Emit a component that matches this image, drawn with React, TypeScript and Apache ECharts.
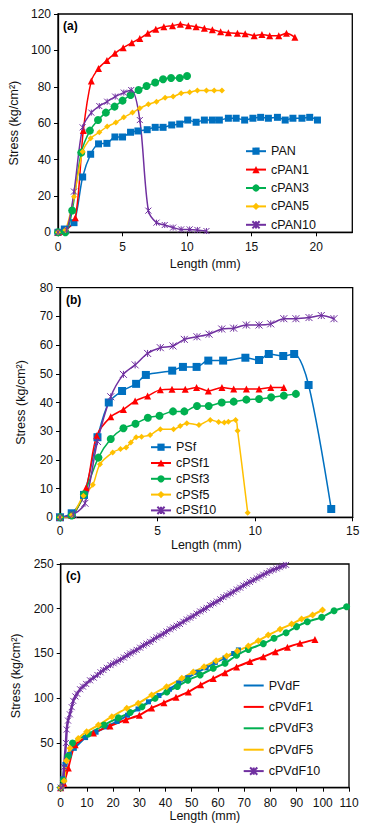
import React, { useEffect, useRef } from "react";
import * as echarts from "echarts";

const FONT = "Liberation Sans, Arial, sans-serif";
const BLUE = "#0070C0";
const RED = "#FF0000";
const GREEN = "#00B050";
const YELLOW = "#FFC000";
const PURPLE = "#7030A0";
const STAR = "path://M0,0L10,10M10,0L0,10M5,0L5,10";

// ---------- Panel (a) ----------
const namesA = ["PAN", "cPAN1", "cPAN3", "cPAN5", "cPAN10"];
const aPAN = [[0,0],[0.49,1.8],[1.24,5.3],[1.91,30.4],[2.53,42.9],[3.14,48.6],[3.79,48.9],[4.41,52.4],[5.0,52.4],[5.62,55],[6.19,55.7],[6.91,56.4],[7.53,57.7],[8.14,57.7],[8.81,59],[9.43,59.5],[10.05,61.7],[10.7,60.5],[11.34,61.7],[11.96,61.7],[12.5,61.7],[13.2,62.7],[13.8,62.7],[14.46,61.7],[15.1,62.7],[15.7,63.2],[16.3,62.7],[17.0,63.2],[17.6,61.7],[18.2,62.7],[18.9,62.7],[19.5,63.2],[20.1,61.7]];
const aPAN1 = [[0,0],[0.5,0.5],[1.34,8],[1.96,55.9],[2.58,83.2],[3.14,90.1],[3.79,94.5],[4.41,98.4],[5.05,101.5],[5.72,104.2],[6.34,106.6],[6.96,109.4],[7.58,111.6],[8.2,113],[8.87,113.6],[9.48,114.3],[10.1,113.6],[10.7,113],[11.34,112.1],[11.96,111.4],[12.6,110.3],[13.2,109.7],[13.9,109.4],[14.5,109.2],[15.2,108.1],[15.8,108.7],[16.4,108.1],[17.1,108.1],[17.7,109.4],[18.35,107.2]];
const aPAN3 = [[0,0],[0.57,0],[1.1,12],[1.8,43.8],[2.47,55.9],[3.1,61.7],[3.71,65.8],[4.38,69.1],[5.0,72.4],[5.62,75.5],[6.24,78.2],[6.86,80.4],[7.53,82.3],[8.14,84.1],[8.76,84.8],[9.43,84.8],[10.0,85.9]];
const aPAN5 = [[0,0],[0.57,1.3],[1.24,19.6],[1.91,44.3],[2.53,51.7],[3.2,55],[3.81,58.1],[4.48,60.3],[5.1,63.2],[5.77,65.8],[6.34,68.2],[7.0,70.4],[7.63,71.8],[8.3,74],[8.92,74.6],[9.54,76.4],[10.2,77],[10.8,77.9],[11.5,77.9],[12.1,77.9],[12.7,77.9]];
const aPAN10 = [[0,0],[0.67,1.3],[1.24,22.4],[1.91,57.7],[2.58,65.8],[3.2,69.4],[3.81,71.8],[4.43,74.6],[5.1,76.8],[5.67,78.2],[6.34,61.7],[7.0,11.9],[7.63,5.3],[8.27,4],[8.92,2.6],[9.54,1.6],[10.2,1.6],[10.8,1.3],[11.5,0.7]];
const aXTicks = [0, 5, 10, 15, 20];

// ---------- Panel (b) ----------
const namesB = ["PSf", "cPSf1", "cPSf3", "cPSf5", "cPSf10"];
const bPSf = [[0,0],[0.6,1.4],[1.23,7.8],[1.92,27.9],[2.5,40],[3.18,44],[3.9,46.5],[4.4,49.6],[5.75,51.1],[6.3,52.4],[7.0,52.4],[7.6,54.6],[8.36,54.6],[9.5,55.6],[10.2,54.8],[10.7,56.9],[11.44,56.2],[12.0,56.9],[12.74,46.1],[13.9,2.9]];
const bPSf1 = [[0,0],[0.6,0.6],[1.34,10.3],[1.88,28.4],[2.6,35],[3.25,37.6],[3.85,40.5],[4.49,42.3],[5.14,44.4],[5.74,44.6],[6.42,44.6],[7.0,45.2],[7.6,44],[8.3,45.2],[8.9,44.7],[9.55,44.7],[10.2,44.7],[10.8,45.2],[11.47,45.2]];
const bPSf3 = [[0,0],[0.6,0.6],[1.23,8],[1.97,20.8],[2.6,27.3],[3.25,31],[3.87,32.6],[4.5,34.7],[5.1,35.4],[5.79,36.9],[6.37,36.9],[7.02,38.8],[7.62,38.8],[8.29,40],[8.9,40.3],[9.55,41],[10.2,41.2],[10.82,41.8],[11.47,42.4],[12.09,43]];
const bPSf5 = [[0,0],[0.6,0.8],[1.2,7.5],[1.68,11.3],[2.05,18.5],[2.7,22.6],[3.1,23.8],[3.39,24.3],[3.63,26.1],[3.9,27.9],[4.18,28.1],[4.62,28.7],[5.14,30.7],[5.82,30.7],[6.16,31.8],[6.5,32.8],[7.12,32.2],[7.7,33.9],[8.13,33.2],[8.42,33],[8.63,33.3],[9.0,33.9],[9.1,30.2],[9.62,1.6]];
const bPSf10 = [[0,0],[0.68,1],[1.28,4.9],[1.92,26.4],[2.6,42],[3.25,49.8],[3.85,53.1],[4.49,57.1],[5.14,59.1],[5.79,59.7],[6.37,62],[7.02,62.9],[7.64,63.8],[8.29,65.6],[8.9,65.9],[9.55,67],[10.2,67],[10.8,67.4],[11.47,69.2],[12.09,69.2],[12.76,69.6],[13.39,70.3],[14.04,69.2]];

// ---------- Panel (c) ----------
const namesC = ["PVdF", "cPVdF1", "cPVdF3", "cPVdF5", "cPVdF10"];
const cPVdF = [[0,0],[0.8,10],[1.6,26],[3.3,37],[5.2,44],[9.5,56],[13.5,62],[17.5,68],[21.5,74],[25.5,81],[29.5,88],[33.5,96],[37.5,103],[41.5,110],[45,117],[48.5,123],[52,129],[55.5,134],[59,140],[62.7,145],[66,150],[67.8,154]];
const cPVdF1 = [[0,0],[1.2,5],[2.9,22],[5.5,48],[12.5,61],[18.8,69],[24.9,76],[30,81],[34.7,89],[39.4,95],[44,101],[48.7,107],[53.4,115],[58.2,122],[62.7,128.5],[67.1,135],[72.2,141],[77.3,146.4],[81.9,152],[86.5,157],[91.3,161.3],[97,165.5]];
const cPVdF3 = [[0,0],[1,8],[2.8,35],[4.5,50],[10.5,60],[16.5,70],[22,78],[26.5,84],[31,90.5],[36,100],[40.5,107],[44.5,113],[48.5,120],[53.2,126],[58.2,133.4],[62.7,139],[67.1,148],[71.6,154.6],[77.3,161],[81.4,167],[86,173.2],[90,180],[94.1,185.5],[99.6,190.4],[104.3,197.8],[109.1,202.3]];
const cPVdF5 = [[0,0],[1.3,7.5],[2.2,30],[3.56,44],[6.7,55],[9.9,62.6],[14.4,70],[19.5,79.4],[25.2,88.7],[29.6,94.3],[34.7,103.6],[40.4,112.9],[46.2,122.2],[50.6,129.3],[54.7,135.2],[59.3,142],[63.3,147.2],[67.4,152.8],[71.6,158.3],[75.4,164.3],[79.2,170.6],[83.7,177],[88.1,182.9],[91.9,188.5],[96.1,193],[99.9,198.6]];
const cPVdF10 = [[0,0],[0.8,2],[1.3,23],[2.0,50],[2.3,65],[2.8,75],[3.5,82],[4.2,90],[4.8,97],[5.6,102],[6.3,105],[7.4,110],[8.5,113],[9.7,116],[11.2,120],[12.6,123],[14,126],[15.2,129],[16.3,131.5],[17.6,134],[19,137],[20.2,139],[21.4,141],[22.8,143],[24.1,145.5],[25.4,148],[26.5,150],[27.7,152],[29,154],[30.3,156.5],[31.6,159],[32.8,161],[34.1,163],[35.4,165.5],[36.6,168],[37.9,170],[39.2,172],[40.4,174.5],[41.7,177],[43,179],[44.3,181],[45.5,183],[46.8,185.5],[48.1,188],[49.4,190],[50.6,192],[51.9,194.5],[53.2,197],[54.5,199],[55.7,201],[57,204],[58.3,206],[59.6,208],[60.9,210.5],[62.1,213],[63.4,215],[64.7,217],[65.9,219],[67.2,221.5],[68.5,223.5],[69.7,226],[71,228],[72.2,230],[73.5,232],[74.8,234],[76,236],[77.3,238],[78.6,240],[79.8,242],[81.1,243.5],[82.4,245],[83.6,246.5],[84.9,248],[86,249]];

const colors = [BLUE, RED, GREEN, YELLOW, PURPLE];

function mk(name: string, data: number[][], idx: number, ci: number, symbol: string, size: number, width: number, smooth: number) {
  const color = colors[ci];
  return {
    type: "line",
    name,
    data,
    xAxisIndex: idx,
    yAxisIndex: idx,
    smooth,
    symbol,
    symbolSize: size,
    showAllSymbol: true,
    lineStyle: { color, width },
    itemStyle: { color, borderColor: color, borderWidth: symbol === STAR ? 1 : 0 },
    emphasis: { disabled: true },
  };
}

const textCol = "#111";

function xAxis(idx: number, min: number, max: number, interval: number, gap: number, margin: number, custom?: number[]) {
  const ax: any = {
    type: "value",
    gridIndex: idx,
    min,
    max,
    interval,
    name: "Length (mm)",
    nameLocation: "middle",
    nameGap: gap,
    nameTextStyle: { fontFamily: FONT, fontSize: 12.5, color: textCol },
    axisLine: { show: true, lineStyle: { color: "#000", width: 1.3 } },
    axisTick: { show: true, length: 4, inside: false, lineStyle: { color: "#000", width: 1 } },
    axisLabel: { fontFamily: FONT, fontSize: 12, color: textCol, margin },
    splitLine: { show: false },
  };
  if (custom) {
    ax.axisLabel.customValues = custom;
    ax.axisTick.customValues = custom;
  }
  return ax;
}

function yAxis(idx: number, min: number, max: number, interval: number, gap: number) {
  return {
    type: "value",
    gridIndex: idx,
    min,
    max,
    interval,
    name: "Stress (kg/cm²)",
    nameLocation: "middle",
    nameGap: gap,
    nameTextStyle: { fontFamily: FONT, fontSize: 12.5, color: textCol },
    axisLine: { show: true, lineStyle: { color: "#000", width: 1.3 } },
    axisTick: { show: true, length: 4, inside: false, lineStyle: { color: "#000", width: 1 } },
    axisLabel: { fontFamily: FONT, fontSize: 12, color: textCol, margin: 7 },
    splitLine: { show: false },
  };
}

function legend(names: string[], left: number, top: number, gap: number, noMarker: boolean) {
  return {
    orient: "vertical",
    left,
    top,
    padding: 0,
    itemGap: gap,
    itemWidth: 20,
    itemHeight: 9,
    textStyle: { fontFamily: FONT, fontSize: 12.5, color: textCol, lineHeight: 12 },
    selectedMode: false,
    data: names.map((n, i) =>
      noMarker && i < 4 ? { name: n, itemStyle: { opacity: 0 } } : { name: n }
    ),
  };
}

export default function App() {
  const ref = useRef<HTMLDivElement>(null);
  useEffect(() => {
    document.body.style.margin = "0";
    const chart = echarts.init(ref.current!, null, { renderer: "svg" });
    const gridBase = { show: true, borderColor: "#000", borderWidth: 1.3, backgroundColor: "transparent", containLabel: false, outerBoundsMode: "none" };
    chart.setOption({
      animation: false,
      textStyle: { fontFamily: FONT },
      grid: [
        { ...gridBase, left: 58, top: 14, width: 294.3, height: 218.3 },
        { ...gridBase, left: 60, top: 287.7, width: 292.7, height: 229.6 },
        { ...gridBase, left: 60.7, top: 564, width: 288.3, height: 223.7 },
      ],
      xAxis: [
        xAxis(0, 0, 22.8, 5, 25, 9, aXTicks),
        xAxis(1, 0, 15, 5, 13, 8),
        xAxis(2, 0, 110, 10, 22, 9),
      ],
      yAxis: [
        yAxis(0, 0, 120, 20, 31),
        yAxis(1, 0, 80, 10, 33),
        yAxis(2, 0, 250, 50, 33),
      ],
      legend: [
        legend(namesA, 245, 144.7, 5.4, false),
        legend(namesB, 150, 440.7, 2.8, false),
        legend(namesC, 242.7, 679, 8.4, true),
      ],
      graphic: [
        { type: "text", left: 63, top: 20, style: { text: "(a)", font: `bold 12px ${FONT}`, fill: "#000" } },
        { type: "text", left: 66, top: 293.5, style: { text: "(b)", font: `bold 12px ${FONT}`, fill: "#000" } },
        { type: "text", left: 66, top: 570, style: { text: "(c)", font: `bold 12px ${FONT}`, fill: "#000" } },
      ],
      series: [
        mk(namesA[0], aPAN, 0, 0, "rect", 7, 1.5, 0.3),
        mk(namesA[1], aPAN1, 0, 1, "triangle", 7, 1.5, 0.3),
        mk(namesA[2], aPAN3, 0, 2, "circle", 8, 1.5, 0.3),
        mk(namesA[3], aPAN5, 0, 3, "diamond", 6, 1.5, 0.3),
        mk(namesA[4], aPAN10, 0, 4, STAR, 6, 1.5, 0.3),
        mk(namesB[0], bPSf, 1, 0, "rect", 8, 1.5, 0.3),
        mk(namesB[1], bPSf1, 1, 1, "triangle", 7, 1.5, 0.3),
        mk(namesB[2], bPSf3, 1, 2, "circle", 8, 1.5, 0.3),
        mk(namesB[3], bPSf5, 1, 3, "diamond", 6, 1.5, 0.3),
        mk(namesB[4], bPSf10, 1, 4, STAR, 7, 1.5, 0.3),
        mk(namesC[0], cPVdF, 2, 0, "rect", 5, 2, 0.2),
        mk(namesC[1], cPVdF1, 2, 1, "triangle", 7, 2, 0.2),
        mk(namesC[2], cPVdF3, 2, 2, "circle", 7, 2, 0.2),
        mk(namesC[3], cPVdF5, 2, 3, "diamond", 7, 2, 0.2),
        mk(namesC[4], cPVdF10, 2, 4, STAR, 6, 2.5, 0.2),
      ],
    });
    return () => chart.dispose();
  }, []);
  return <div ref={ref} style={{ width: 369, height: 830 }} />;
}
